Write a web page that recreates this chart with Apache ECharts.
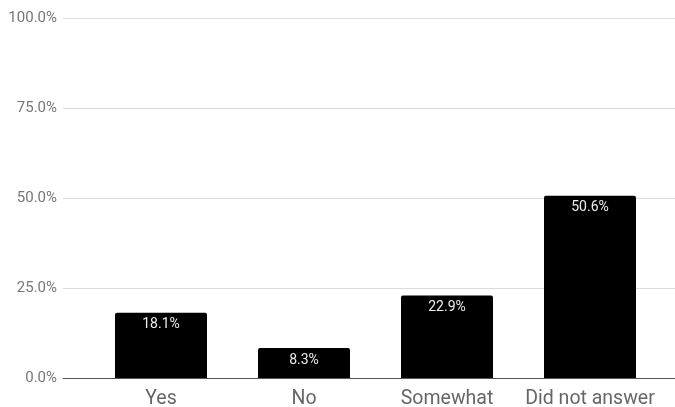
<!DOCTYPE html>
<html><head><meta charset="utf-8">
<script src="https://cdn.jsdelivr.net/npm/echarts@6/dist/echarts.min.js"></script>
<style>html,body{margin:0;padding:0;background:#fff}#c{width:675px;height:407px}</style>
</head><body><div id="c"></div>
<script>
const categories = ["Yes", "No", "Somewhat", "Did not answer"];
const values = [18.1, 8.3, 22.9, 50.6];
const yTicks = [0, 25, 50, 75, 100];

const chart = echarts.init(document.getElementById('c'), null, {renderer: 'canvas'});
chart.setOption({
  animation: false,
  textStyle: {fontFamily: 'Roboto'},
  grid: [
    {left: 63, right: 0, top: 18, bottom: 29, outerBoundsMode: 'none', containLabel: false},
    {left: 89.5, right: 13.5, top: 18, bottom: 29, outerBoundsMode: 'none', containLabel: false}
  ],
  xAxis: [
    {gridIndex: 0, type: 'value', min: 0, max: 1, axisLabel: {show: false}, axisTick: {show: false}, splitLine: {show: false},
     axisLine: {show: true, lineStyle: {color: '#555', width: 1.2}}},
    {gridIndex: 1, type: 'category', data: categories, axisLine: {show: false}, axisTick: {show: false},
     axisLabel: {color: '#666', fontSize: 19.5, margin: 11, interval: 0, fontFamily: 'Roboto'}}
  ],
  yAxis: [
    {gridIndex: 0, type: 'value', min: yTicks[0], max: yTicks[yTicks.length-1], interval: 25,
     axisLine: {show: false}, axisTick: {show: false},
     axisLabel: {color: '#777', fontSize: 15, margin: 6, formatter: v => v.toFixed(1) + '%'},
     splitLine: {lineStyle: {color: '#dcdcdc', width: 1}}},
    {gridIndex: 1, type: 'value', min: 0, max: 100, show: false, splitLine: {show: false}}
  ],
  series: [{
    type: 'bar', xAxisIndex: 1, yAxisIndex: 1, data: values, barWidth: 92,
    itemStyle: {color: '#000', borderRadius: [2, 2, 0, 0]},
    label: {show: true, position: 'insideTop', distance: 5, color: '#eee', fontSize: 14,
            formatter: p => p.value.toFixed(1) + '%'}
  }]
});
</script></body></html>
